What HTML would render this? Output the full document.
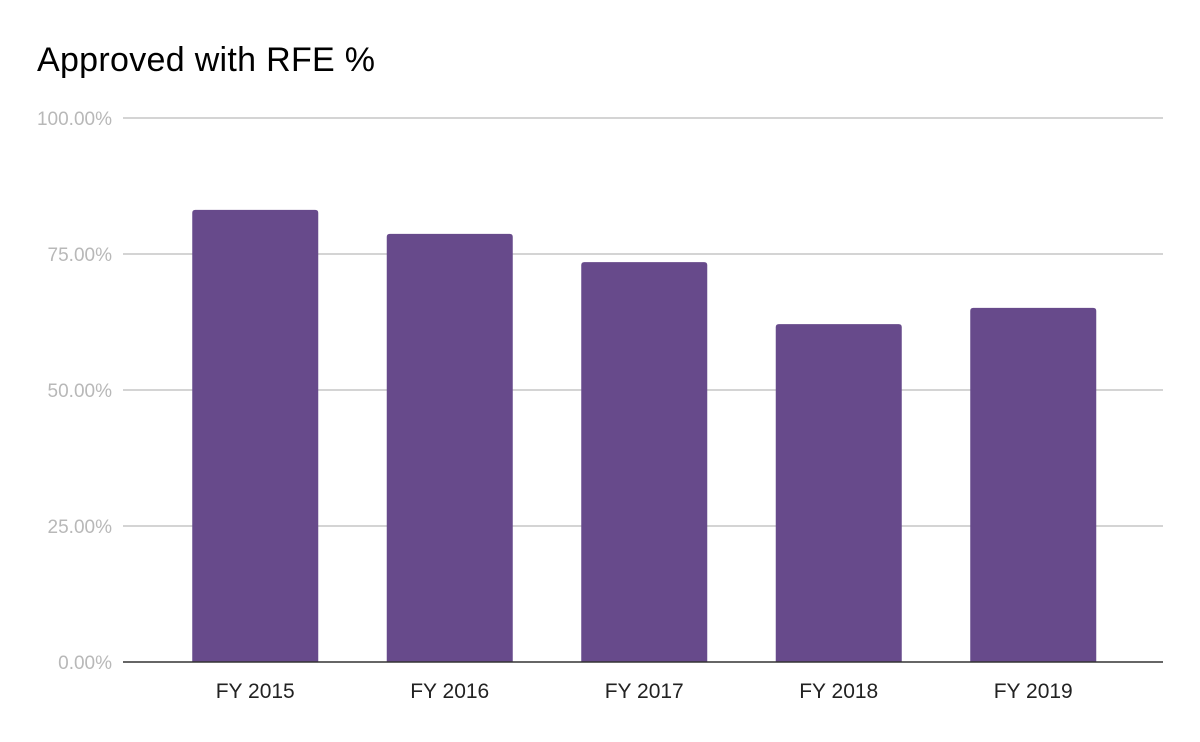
<!DOCTYPE html>
<html><head><meta charset="utf-8"><style>
html,body{margin:0;padding:0;background:#fff;}
svg{display:block;font-family:"Liberation Sans",sans-serif;}
</style></head><body>
<svg id="chart" width="1200" height="742">
<text x="37" y="71" font-size="34" letter-spacing="0.3" fill="#000">Approved with RFE %</text>
<g id="grid"></g><g id="bars"></g><g id="xlabels"></g>
</svg>
<script>
const categories = ["FY 2015","FY 2016","FY 2017","FY 2018","FY 2019"];
const values = [83.1, 78.7, 73.5, 62.1, 65.1];
const yTicks = [0, 25, 50, 75, 100];
const yTickLabels = ["0.00%","25.00%","50.00%","75.00%","100.00%"];
const NS="http://www.w3.org/2000/svg";
const y0=662, y1=118, plotL=123, plotR=1163, bandStart=158, band=194.5, barW=126;
function yScale(v){return y0-(v/100)*(y0-y1);}
function xCenter(i){return bandStart+band*(i+0.5);}
const grid=document.getElementById('grid'), bars=document.getElementById('bars'), xl=document.getElementById('xlabels');
yTicks.forEach((t,i)=>{
  const y=yScale(t);
  const l=document.createElementNS(NS,'line');
  
  
  l.setAttribute('x1',plotL);l.setAttribute('x2',plotR);l.setAttribute('y1',y);l.setAttribute('y2',y);
  l.setAttribute('stroke',t===0?'#333':'#c6c6c6');l.setAttribute('stroke-width',t===0?1.5:1.5);
  grid.appendChild(l);
  const tx=document.createElementNS(NS,'text');
  
  
  tx.setAttribute('x',112);tx.setAttribute('y',y+7);tx.setAttribute('text-anchor','end');
  tx.setAttribute('font-size','19');tx.setAttribute('fill','#b8b8b8');
  tx.textContent=yTickLabels[i];grid.appendChild(tx);
});
values.forEach((v,i)=>{
  const cx=xCenter(i), top=yScale(v);
  const p=document.createElementNS(NS,'path');
  
  
  const x=cx-barW/2, r=3;
  p.setAttribute('d',`M${x},${y0} L${x},${top+r} Q${x},${top} ${x+r},${top} L${x+barW-r},${top} Q${x+barW},${top} ${x+barW},${top+r} L${x+barW},${y0} Z`);
  p.setAttribute('fill','#674a8b');
  bars.appendChild(p);
  const tx=document.createElementNS(NS,'text');
  
  
  tx.setAttribute('x',cx);tx.setAttribute('y',698);tx.setAttribute('text-anchor','middle');
  tx.setAttribute('font-size','21');tx.setAttribute('fill','#222');
  tx.textContent=categories[i];xl.appendChild(tx);
});
grid.parentNode.appendChild(grid.querySelector('line'));
</script>
</body></html>
